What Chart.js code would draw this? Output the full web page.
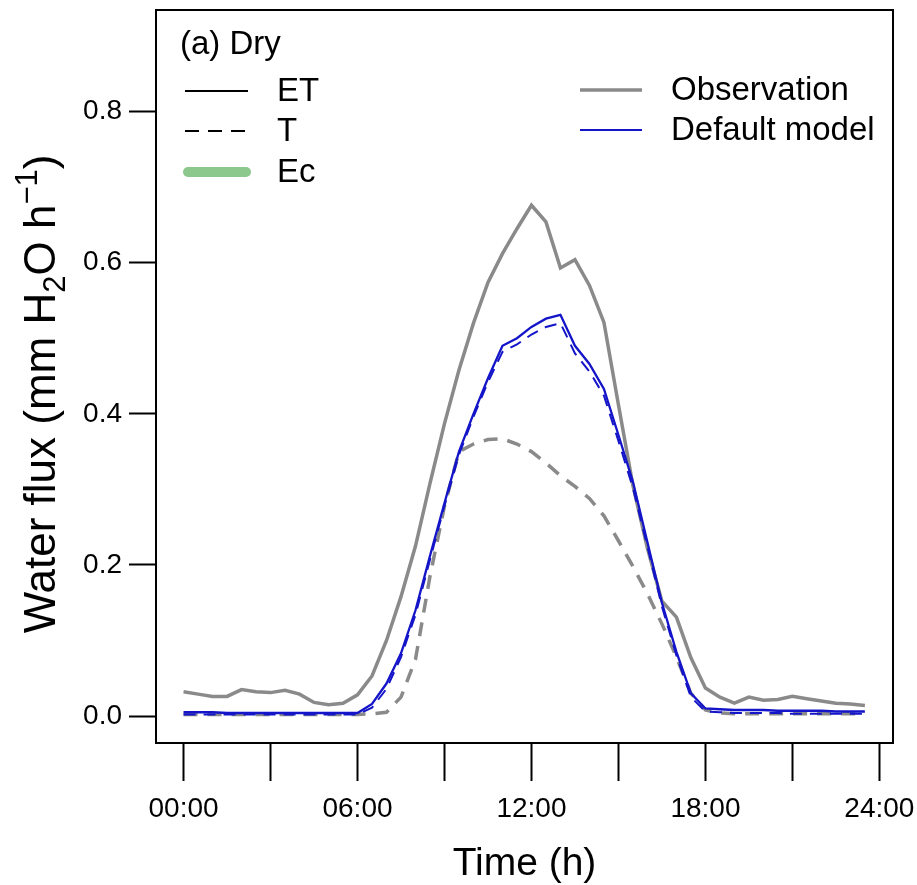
<!DOCTYPE html>
<html>
<head>
<meta charset="utf-8">
<script src="https://cdn.jsdelivr.net/npm/chart.js@4/dist/chart.umd.min.js"></script>
<style>html,body{margin:0;padding:0;background:#fff}canvas{display:block}</style>
</head>
<body>
<canvas id="c" width="917" height="885"></canvas>
<script>
// ---- data (half-hourly) ----
const hours = [0,0.5,1,1.5,2,2.5,3,3.5,4,4.5,5,5.5,6,6.5,7,7.5,8,8.5,9,9.5,10,10.5,11,11.5,12,12.5,13,13.5,14,14.5,15,15.5,16,16.5,17,17.5,18,18.5,19,19.5,20,20.5,21,21.5,22,22.5,23,23.5];
const obsET = [0.032,0.029,0.026,0.026,0.035,0.032,0.031,0.034,0.029,0.018,0.015,0.017,
               0.028,0.053,0.100,0.158,0.225,0.308,0.387,0.458,0.520,0.574,0.612,0.645,
               0.676,0.654,0.593,0.604,0.570,0.521,0.412,0.305,0.222,0.152,0.131,0.077,
               0.037,0.025,0.017,0.025,0.021,0.022,0.026,0.023,0.020,0.017,0.016,0.014];
const obsT  = [0.002,0.002,0.002,0.002,0.002,0.002,0.002,0.002,0.002,0.002,0.002,0.002,
               0.002,0.003,0.005,0.025,0.075,0.185,0.278,0.350,0.360,0.366,0.367,0.360,
               0.350,0.335,0.318,0.304,0.288,0.265,0.232,0.198,0.162,0.122,0.078,0.030,
               0.008,0.004,0.003,0.003,0.003,0.003,0.003,0.003,0.003,0.003,0.003,0.003];
const defET = [0.005,0.005,0.005,0.004,0.004,0.004,0.004,0.004,0.004,0.004,0.004,0.004,
               0.004,0.016,0.043,0.083,0.140,0.212,0.282,0.350,0.400,0.447,0.490,0.500,
               0.515,0.526,0.531,0.490,0.466,0.433,0.372,0.310,0.230,0.150,0.085,0.030,
               0.010,0.009,0.008,0.008,0.008,0.007,0.007,0.007,0.007,0.006,0.006,0.006];
const defT  = [0.002,0.002,0.002,0.002,0.002,0.002,0.002,0.002,0.002,0.002,0.002,0.002,
               0.002,0.011,0.036,0.078,0.134,0.207,0.278,0.346,0.396,0.442,0.482,0.492,
               0.505,0.515,0.520,0.480,0.456,0.424,0.364,0.302,0.224,0.145,0.080,0.025,
               0.006,0.005,0.004,0.004,0.004,0.004,0.003,0.003,0.003,0.003,0.003,0.003];
const xTickValues = [0,3,6,9,12,15,18,21,24];
const xTickLabels = ['00:00','','06:00','','12:00','','18:00','','24:00'];
const yTickValues = [0,0.2,0.4,0.6,0.8];
const panelLabel = '(a) Dry';
const componentNames = ['ET','T','Ec'];
const sourceNames = ['Observation','Default model'];
const xTitle = 'Time (h)';

// ---- styles ----
const FONT = "'Liberation Sans', Arial, Helvetica, sans-serif";
const GRAY = '#8a8a8a';
const BLUE = '#1414c8';
const GREEN = '#8cc88c';

const pts = arr => hours.map((h, i) => ({x: h, y: arr[i]}));

const boxPlugin = {
  id: 'box',
  afterDraw(chart) {
    const {ctx, chartArea: a} = chart;
    ctx.save();
    ctx.strokeStyle = '#000';
    ctx.lineWidth = 2;
    ctx.strokeRect(a.left, a.top, a.right - a.left, a.bottom - a.top);
    ctx.restore();
  }
};

const legendPlugin = {
  id: 'customLegend',
  afterDraw(chart) {
    const ctx = chart.ctx;
    ctx.save();
    ctx.fillStyle = '#000';
    ctx.textBaseline = 'middle';
    ctx.textAlign = 'left';
    ctx.font = `33px ${FONT}`;
    ctx.fillText(panelLabel, 180, 45);
    const rowsL = [91, 131, 172];
    // ET
    ctx.strokeStyle = '#000'; ctx.lineWidth = 2; ctx.setLineDash([]);
    ctx.beginPath(); ctx.moveTo(185, rowsL[0]); ctx.lineTo(248, rowsL[0]); ctx.stroke();
    // T
    ctx.setLineDash([14, 9]);
    ctx.beginPath(); ctx.moveTo(185, rowsL[1]); ctx.lineTo(248, rowsL[1]); ctx.stroke();
    ctx.setLineDash([]);
    // Ec
    ctx.strokeStyle = GREEN; ctx.lineWidth = 10; ctx.lineCap = 'round';
    ctx.beginPath(); ctx.moveTo(188, rowsL[2]); ctx.lineTo(246, rowsL[2]); ctx.stroke();
    ctx.lineCap = 'butt';
    componentNames.forEach((n, i) => ctx.fillText(n, 277, rowsL[i] + 1));
    // sources
    const rowsR = [90, 130];
    ctx.strokeStyle = GRAY; ctx.lineWidth = 3.5;
    ctx.beginPath(); ctx.moveTo(580, rowsR[0]); ctx.lineTo(642, rowsR[0]); ctx.stroke();
    ctx.strokeStyle = BLUE; ctx.lineWidth = 2.2;
    ctx.beginPath(); ctx.moveTo(580, rowsR[1]); ctx.lineTo(642, rowsR[1]); ctx.stroke();
    sourceNames.forEach((n, i) => ctx.fillText(n, 671, rowsR[i] + 1));
    ctx.restore();
  }
};

const yTitlePlugin = {
  id: 'yTitle',
  afterDraw(chart) {
    const ctx = chart.ctx;
    const size = 44;
    const small = Math.round(size * 0.7);
    const segs = [
      {t: 'Water flux (mm H', f: size, dy: 0},
      {t: '2', f: small, dy: size * 0.22},
      {t: 'O h', f: size, dy: 0},
      {t: '\u22121', f: small, dy: -size * 0.42},
      {t: ')', f: size, dy: 0}
    ];
    ctx.save();
    let total = 0;
    segs.forEach(s => { ctx.font = `${s.f}px ${FONT}`; s.w = ctx.measureText(s.t).width; total += s.w; });
    ctx.translate(55, 394);
    ctx.rotate(-Math.PI / 2);
    ctx.fillStyle = '#000';
    ctx.textBaseline = 'alphabetic';
    ctx.textAlign = 'left';
    let x = -total / 2;
    segs.forEach(s => { ctx.font = `${s.f}px ${FONT}`; ctx.fillText(s.t, x, s.dy); x += s.w; });
    ctx.restore();
  }
};

new Chart(document.getElementById('c').getContext('2d'), {
  type: 'line',
  data: {
    datasets: [
      {label: 'Default model ET', data: pts(defET), borderColor: BLUE, borderWidth: 2.3, pointRadius: 0, tension: 0, order: 0, fill: false},
      {label: 'Default model T', data: pts(defT), borderColor: BLUE, borderWidth: 2, borderDash: [12, 8], pointRadius: 0, tension: 0, order: 1, fill: false},
      {label: 'Observation ET', data: pts(obsET), borderColor: GRAY, borderWidth: 3.5, pointRadius: 0, tension: 0, order: 2, fill: false},
      {label: 'Observation T', data: pts(obsT), borderColor: GRAY, borderWidth: 3.5, borderDash: [14, 10], pointRadius: 0, tension: 0, order: 3, fill: false}
    ]
  },
  options: {
    responsive: false,
    animation: false,
    devicePixelRatio: 1,
    layout: {padding: {left: 0, right: 24, top: 10, bottom: 0}},
    plugins: {legend: {display: false}, tooltip: {enabled: false}},
    scales: {
      x: {
        type: 'linear', min: -0.95, max: 24.47,
        afterBuildTicks: s => { s.ticks = xTickValues.map(v => ({value: v})); },
        afterFit: s => { s.height = 142; s.paddingLeft = 0; s.paddingRight = 0; },
        ticks: {
          autoSkip: false, maxRotation: 0, color: '#000', padding: 11,
          font: {family: FONT, size: 28},
          callback: v => { const i = xTickValues.indexOf(v); return i >= 0 ? xTickLabels[i] : ''; }
        },
        grid: {drawOnChartArea: false, drawTicks: true, tickLength: 38, tickColor: '#000', tickWidth: 2},
        border: {display: true, color: '#000', width: 2},
        title: {display: true, text: xTitle, color: '#000', font: {family: FONT, size: 39, lineHeight: 1}, padding: {top: 0, bottom: 1}}
      },
      y: {
        type: 'linear', min: -0.0357, max: 0.9345,
        afterBuildTicks: s => { s.ticks = yTickValues.map(v => ({value: v})); },
        afterFit: s => { s.width = 156; s.paddingTop = 0; s.paddingBottom = 0; },
        ticks: {
          color: '#000', padding: 7,
          font: {family: FONT, size: 28},
          callback: v => Number(v).toFixed(1)
        },
        grid: {drawOnChartArea: false, drawTicks: true, tickLength: 27, tickColor: '#000', tickWidth: 2},
        border: {display: true, color: '#000', width: 2}
      }
    }
  },
  plugins: [boxPlugin, legendPlugin, yTitlePlugin]
});
</script>
</body>
</html>
